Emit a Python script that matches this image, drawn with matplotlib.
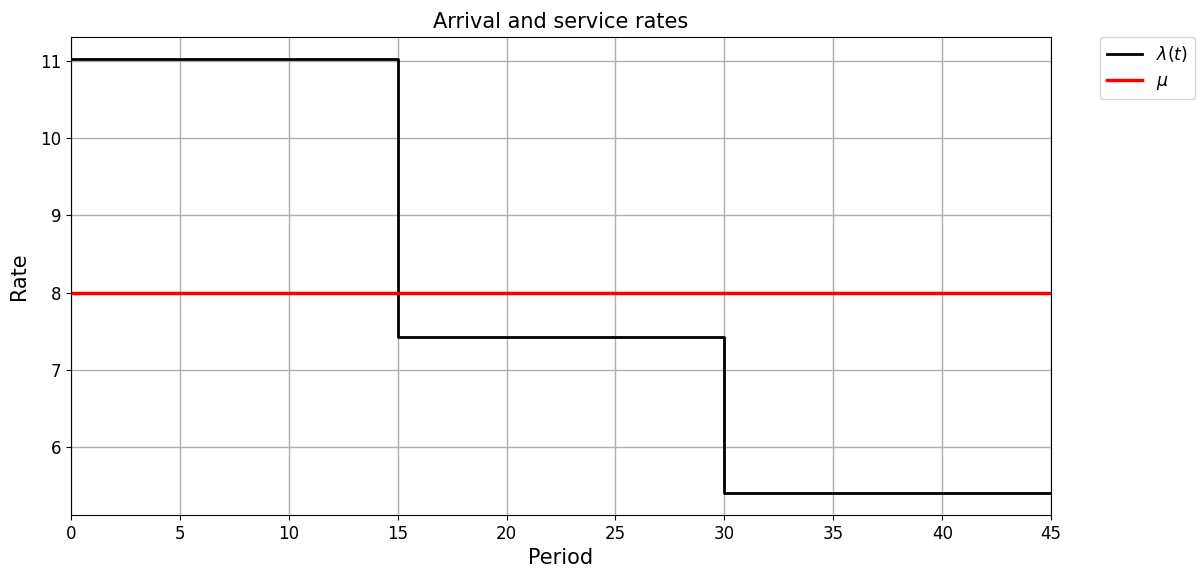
import matplotlib
matplotlib.use("Agg")
import matplotlib.pyplot as plt
import numpy as np

# piecewise constant arrival rate and constant service rate
period_edges = [0, 15, 30, 45]
arrival_rates = [11.03, 7.43, 5.40]
service_rate = 8.0

fig, ax = plt.subplots(figsize=(12, 5.75), dpi=100)

lam = arrival_rates + [arrival_rates[-1]]
ax.step(period_edges, lam, where='post', color='black', lw=2, label=r'$\lambda(t)$')
ax.plot([period_edges[0], period_edges[-1]], [service_rate, service_rate], color='red', lw=2.5, label=r'$\mu$')

ax.set_xlim(period_edges[0], period_edges[-1])
ax.set_xticks(np.arange(0, 46, 5))
ax.grid(True, color='#b0b0b0', lw=1)
ax.set_title('Arrival and service rates', fontsize=15)
ax.set_xlabel('Period', fontsize=15)
ax.set_ylabel('Rate', fontsize=15, labelpad=8)
ax.tick_params(labelsize=12)
ax.legend(bbox_to_anchor=(1.05, 1), loc='upper left', borderaxespad=0, fontsize=12.5)

fig.subplots_adjust(left=0.059, right=0.876, top=0.936, bottom=0.104)
fig.savefig('out.png')
